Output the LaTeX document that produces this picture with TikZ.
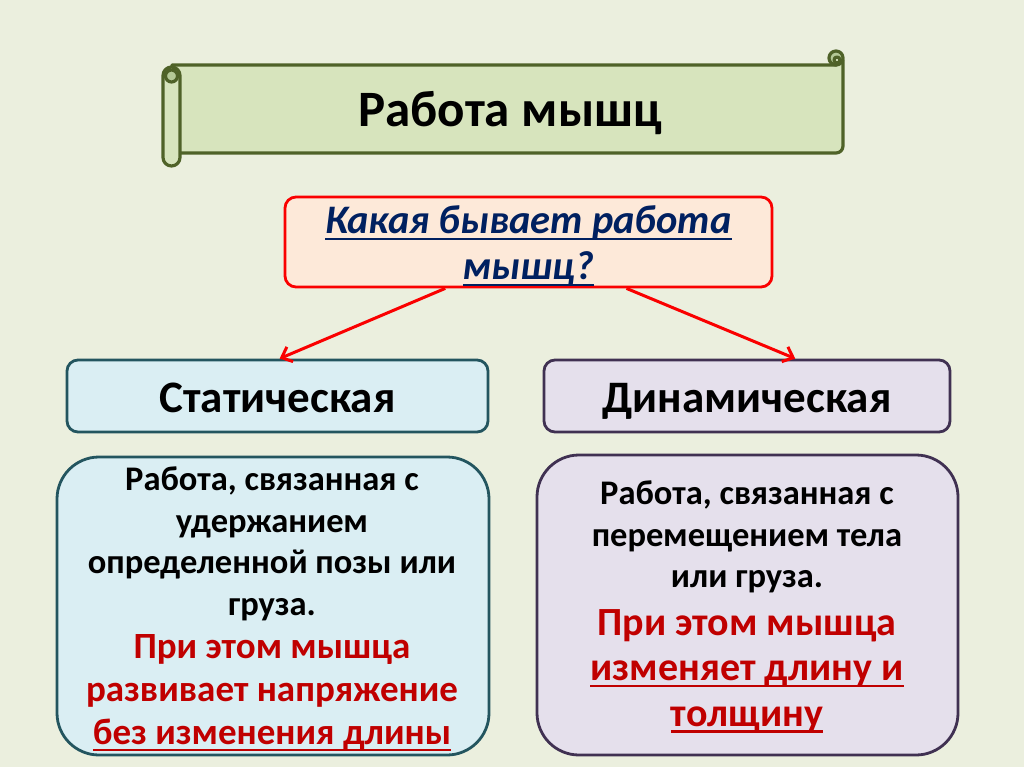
\documentclass[tikz,border=0pt]{standalone}
\usepackage{fontspec}
\setmainfont{Carlito}
\newcommand{\myul}[1]{\leavevmode\setbox0\hbox{#1}\rlap{\vrule height -4pt depth 6.4pt width \wd0}\box0}
\usetikzlibrary{arrows.meta,calc}
\definecolor{bg}{RGB}{235,239,222}
\definecolor{scrollfill}{RGB}{215,228,189}
\definecolor{scrolldark}{RGB}{180,200,150}
\definecolor{scrollline}{RGB}{79,98,40}
\definecolor{qfill}{RGB}{253,233,217}
\definecolor{qline}{RGB}{250,0,0}
\definecolor{qtext}{RGB}{0,32,96}
\definecolor{sfill}{RGB}{218,238,243}
\definecolor{sline}{RGB}{35,85,95}
\definecolor{dfill}{RGB}{229,224,236}
\definecolor{dline}{RGB}{64,49,82}
\definecolor{redtext}{RGB}{192,0,0}
\tikzset{
  boxbase/.style={draw, line width=2.8pt, inner sep=0pt, align=center},
  qbox/.style={boxbase, fill=qfill, draw=qline, rounded corners=11pt, minimum width=487pt, minimum height=90pt},
  sbox/.style={boxbase, fill=sfill, draw=sline, rounded corners=11pt, minimum width=421pt, minimum height=72pt},
  dbox/.style={boxbase, fill=dfill, draw=dline, rounded corners=11pt, minimum width=406pt, minimum height=72pt},
  sbig/.style={boxbase, fill=sfill, draw=sline, rounded corners=42pt, minimum width=432pt, minimum height=298pt},
  dbig/.style={boxbase, fill=dfill, draw=dline, rounded corners=42pt, minimum width=421pt, minimum height=300pt},
  headtxt/.style={font=\fontsize{45}{52}\selectfont\bfseries, text height=40pt, text depth=8pt},
  bodytxt/.style={align=center, inner sep=0pt, font=\fontsize{34.5}{41.5}\selectfont\bfseries},
  redtxt/.style={align=center, inner sep=0pt, text=redtext},
  conn/.style={draw=qline, line width=3pt, -{Straight Barb[length=9pt,width=16pt,line width=3pt]}},
  scroll/.style={draw=scrollline, line width=3.2pt, line join=round},
}
\begin{document}
\begin{tikzpicture}[x=1pt,y=-1pt]
\useasboundingbox[fill=bg] (0,0) rectangle (1024,767);
% scroll banner
\draw[scroll, fill=scrollfill] (172,65) -- (836,65) -- (843,60) -- (843,146) arc[start angle=0, end angle=90, radius=7] -- (172,153) -- cycle;
\draw[scroll, fill=scrolldark] (836,58) circle[radius=7pt];
\draw[scroll, fill=scrollfill] (837,60) circle[radius=3pt];
\draw[scroll, fill=scrollfill, rounded corners=8.5pt] (163,67) rectangle (180,166);
\draw[scroll, fill=scrolldark] (171.5,76) circle[radius=6pt];
\node[font=\fontsize{51}{60}\selectfont\bfseries] (title) at (510,113) {Работа мышц};
% question
\node[qbox, text=qtext, font=\fontsize{40.5}{46}\selectfont\bfseries\itshape] (q) at (528.5,242) {};
\node[align=center, inner sep=0pt, text=qtext, font=\fontsize{40.5}{46}\selectfont\bfseries\itshape] (qt) at (528.5,246) {\myul{Какая бывает работа}\\\myul{мышц?}};
% categories
\node[sbox, headtxt] (s) at (277.5,396) {Статическая};
\node[dbox, headtxt] (d) at (747,396) {Динамическая};
\draw[conn] ($(q.south west)!0.33!(q.south east)$) -- ($(s.north west)!0.505!(s.north east)$);
\draw[conn] ($(q.south west)!0.70!(q.south east)$) -- ($(d.north west)!0.618!(d.north east)$);
% descriptions
\node[sbig] (sl) at (273,606) {};
\node[dbig] (dl) at (747.5,605) {};
\node[bodytxt] (slb) at (272,544) {Работа, связанная с\\удержанием\\определенной позы или\\груза.};
\node[bodytxt, redtxt, font=\fontsize{37}{43}\selectfont\bfseries] (slr) at (272,693) {При этом мышца\\развивает напряжение\\\myul{без изменения длины}};
\node[bodytxt] (dlb) at (747,537) {Работа, связанная с\\перемещением тела\\или груза.};
\node[bodytxt, redtxt, font=\fontsize{40}{45.5}\selectfont\bfseries] (dlr) at (747,671) {При этом мышца\\\myul{изменяет длину и}\\\myul{толщину}};
\end{tikzpicture}
\end{document}
